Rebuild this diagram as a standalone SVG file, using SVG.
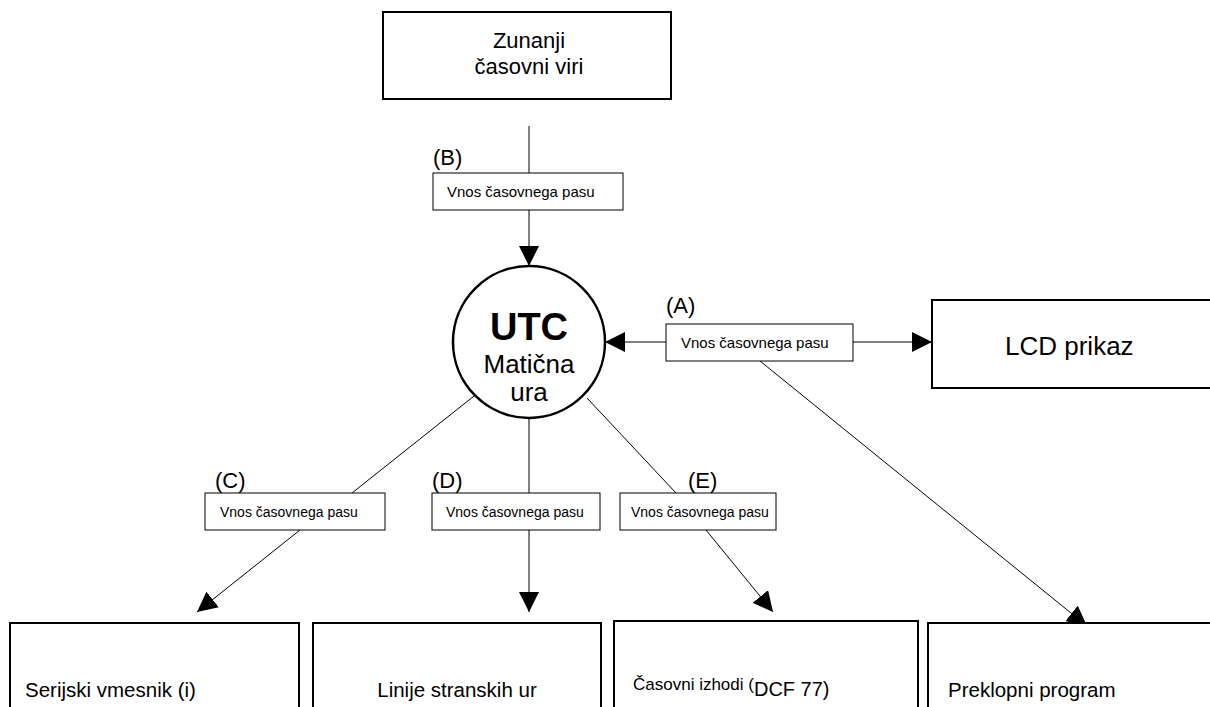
<svg xmlns="http://www.w3.org/2000/svg" width="1210" height="707" viewBox="0 0 1210 707">
<style>
text{font-family:"Liberation Sans",Arial,sans-serif;fill:#000}
.box{fill:#fff;stroke:#000;stroke-width:2}
.sbox{fill:#fff;stroke:#000;stroke-width:1}
.ln{stroke:#000;stroke-width:1;fill:none}
.s{font-size:15px}
.s2{font-size:14px}
.lab{font-size:22px}
.b{font-size:20.5px}
</style>
<defs>
<marker id="ah" markerWidth="20" markerHeight="20" refX="20" refY="10" orient="auto" markerUnits="userSpaceOnUse">
<path d="M0,0 L20,10 L0,20 Z" fill="#000"/>
</marker>
</defs>
<g id="n-top"><rect class="box" x="383" y="12" width="288" height="87"/>
<text x="529" y="48" text-anchor="middle" font-size="22">Zunanji</text>
<text x="529" y="74" text-anchor="middle" font-size="22">časovni viri</text></g>
<g id="n-utc"><circle cx="529" cy="342" r="76" fill="#fff" stroke="#000" stroke-width="2.5"/>
<text x="529" y="340" text-anchor="middle" font-size="38" font-weight="bold">UTC</text>
<text x="529" y="373" text-anchor="middle" font-size="26">Matična</text>
<text x="529" y="401" text-anchor="middle" font-size="26">ura</text></g>
<g id="n-lcd"><rect class="box" x="932" y="300" width="290" height="88"/>
<text x="1005" y="355" font-size="26">LCD prikaz</text></g>
<g id="connectors">
<line class="ln" x1="529" y1="126" x2="529" y2="173"/>
<line class="ln" x1="529" y1="210" x2="529" y2="266" marker-end="url(#ah)"/>
<line class="ln" x1="666" y1="342" x2="605" y2="342" marker-end="url(#ah)"/>
<line class="ln" x1="853" y1="342" x2="932" y2="342" marker-end="url(#ah)"/>
<line class="ln" x1="760" y1="361" x2="1087" y2="626" marker-end="url(#ah)"/>
<line class="ln" x1="474" y1="396" x2="352" y2="493"/>
<line class="ln" x1="300" y1="530" x2="197" y2="612" marker-end="url(#ah)"/>
<line class="ln" x1="529" y1="418" x2="529" y2="493"/>
<line class="ln" x1="529" y1="530" x2="529" y2="612" marker-end="url(#ah)"/>
<line class="ln" x1="587" y1="398" x2="676" y2="493"/>
<line class="ln" x1="706" y1="530" x2="773" y2="612" marker-end="url(#ah)"/>
</g>
<g id="n-b"><text class="lab" x="433" y="165">(B)</text><rect class="sbox" x="433" y="173" width="190" height="37"/>
<text class="s" x="447" y="197">Vnos časovnega pasu</text></g>
<g id="n-a"><text class="lab" x="666" y="313">(A)</text><rect class="sbox" x="666" y="324" width="187" height="37"/>
<text class="s" x="681" y="348">Vnos časovnega pasu</text></g>
<g id="n-c"><text class="lab" x="215" y="488">(C)</text><rect class="sbox" x="205" y="493" width="180" height="37"/>
<text class="s2" x="220" y="517">Vnos časovnega pasu</text></g>
<g id="n-d"><text class="lab" x="432" y="488">(D)</text><rect class="sbox" x="432" y="493" width="168" height="37"/>
<text class="s2" x="446" y="517">Vnos časovnega pasu</text></g>
<g id="n-e"><text class="lab" x="688" y="488">(E)</text><rect class="sbox" x="620" y="493" width="156" height="37"/>
<text class="s2" x="631" y="517">Vnos časovnega pasu</text></g>
<g id="n-ser"><rect class="box" x="10" y="623" width="289" height="100"/>
<text class="b" x="25" y="697">Serijski vmesnik (i)</text></g>
<g id="n-lin"><rect class="box" x="313" y="623" width="288" height="100"/>
<text class="b" x="457" y="697" text-anchor="middle">Linije stranskih ur</text></g>
<g id="n-cas"><rect class="box" x="614" y="621" width="304" height="100"/>
<text x="633" y="690" font-size="17">Časovni izhodi (<tspan font-size="20" dy="6">DCF 77)</tspan></text></g>
<g id="n-pre"><rect class="box" x="928" y="623" width="300" height="100"/>
<text class="b" x="948" y="697">Preklopni program</text></g>
</svg>
